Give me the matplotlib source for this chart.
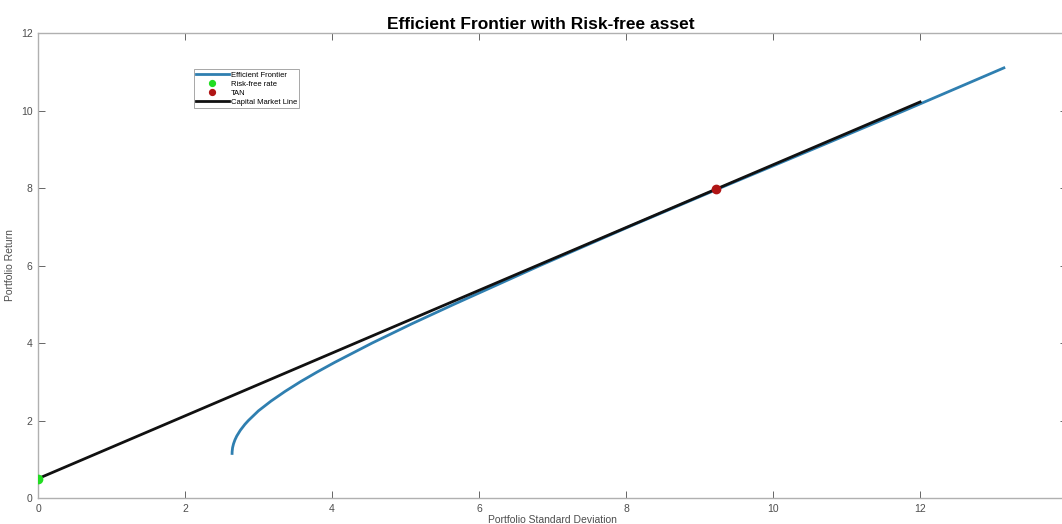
import matplotlib.pyplot as plt

plt.rcParams['font.family'] = ['Liberation Sans', 'DejaVu Sans']

# efficient frontier (std dev, return)
ef_std = [2.64, 2.641, 2.647, 2.660, 2.679, 2.704, 2.753, 2.814, 2.862, 2.999,
          3.169, 3.360, 3.569, 3.796, 4.036, 4.546, 5.09, 5.66, 6.83, 8.04,
          9.28, 10.54, 11.79, 13.14]
ef_ret = [1.15, 1.2, 1.3, 1.4, 1.5, 1.6, 1.75, 1.9, 2.0, 2.25,
          2.5, 2.75, 3.0, 3.25, 3.5, 4.0, 4.5, 5.0, 6.0, 7.0,
          8.0, 9.0, 10.0, 11.1]

rf_std, rf_ret = [0.0], [0.5]
tan_std, tan_ret = [9.23], [7.97]
cml_std = [0.0, 12.0]
cml_ret = [0.5, 10.22]

grey = '#4d4d4d'

fig = plt.figure(figsize=(10.62, 5.24), dpi=100)
ax = fig.add_axes([0.0358, 0.0496, 0.969, 0.8874])

ax.plot(ef_std, ef_ret, color='#2f7fb0', lw=2, label='Efficient Frontier', zorder=2)
ax.plot(rf_std, rf_ret, 'o', color='#22dd22', ms=6, label='Risk-free rate', zorder=4)
ax.plot(tan_std, tan_ret, 'o', color='#b01515', ms=6, label='TAN', zorder=4)
ax.plot(cml_std, cml_ret, color='#111111', lw=2, label='Capital Market Line', zorder=3)

ax.set_xlim(0, 14)
ax.set_ylim(0, 12)
ax.set_xticks(range(0, 13, 2))
ax.set_yticks(range(0, 13, 2))
ax.tick_params(direction='in', top=True, right=True, labelsize=7.5, colors=grey,
               length=5, width=0.6, pad=4)
for s in ax.spines.values():
    s.set_color('#b0b0b0')
    s.set_linewidth(1)

ax.set_title('Efficient Frontier with Risk-free asset', fontsize=12.5, fontweight='bold',
             x=0.489, pad=3)
ax.set_xlabel('Portfolio Standard Deviation', fontsize=7.5, color=grey, labelpad=1)
ax.set_ylabel('Portfolio Return', fontsize=7.5, color=grey, labelpad=4)

leg = ax.legend(loc='upper left', bbox_to_anchor=(0.148, 0.93), fontsize=5.5,
                handlelength=4.2, borderpad=0.3, labelspacing=0.2, handletextpad=0.3,
                markerscale=0.7, fancybox=False, edgecolor='#999999', framealpha=1)
leg.get_frame().set_linewidth(0.6)

fig.savefig('out.png', dpi=100)
